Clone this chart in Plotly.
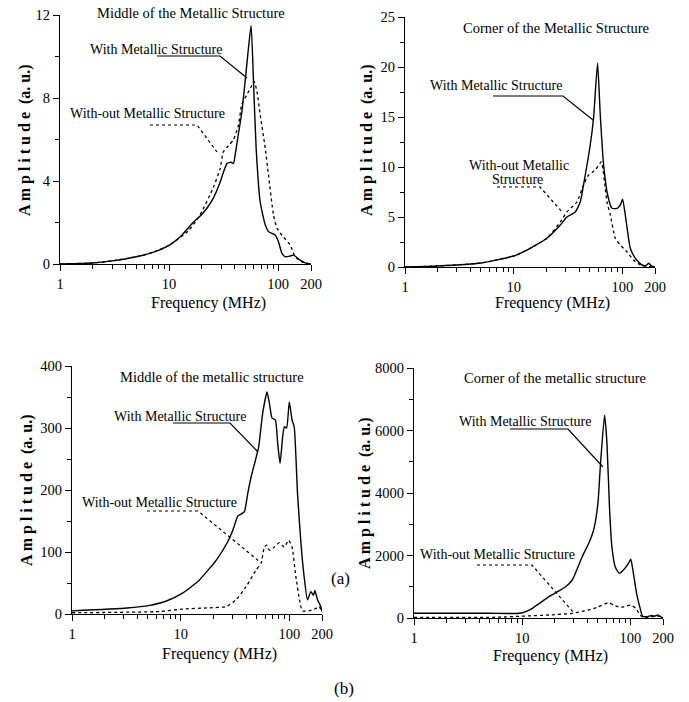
import math
import plotly.graph_objects as go

# ---------------- data ----------------
# (a) middle of the metallic structure
a_mid_with_f = [1, 2, 3, 5, 7, 10, 12.6, 16.6, 19.2, 22.3, 25.6, 29.4, 31.4, 34, 37, 39, 40.3, 43, 46.4,
                49.8, 53.4, 56.5, 59.4, 62.8, 68.4, 76, 81.5, 93.8, 100.7, 108, 116, 128, 138, 159, 177, 200]
a_mid_with_v = [0, 0.05, 0.15, 0.35, 0.55, 0.9, 1.3, 2.0, 2.3, 2.7, 3.2, 3.95, 4.4, 4.85, 4.9, 4.85, 5.25,
                6.2, 7.3, 8.8, 10.4, 11.5, 8.8, 5.6, 3.0, 1.9, 1.56, 1.4, 1.07, 0.53, 0.35, 0.38, 0.43, 0.19,
                0.05, 0]
a_mid_without_f = [1, 2, 3, 5, 7, 10, 15, 19.2, 25.5, 29.4, 31.4, 35, 39, 43.3, 46.4, 51.6, 56, 60.3, 64,
                   68.4, 76, 81.5, 90.6, 97.3, 104, 112, 129, 143, 165, 200]
a_mid_without_v = [0, 0.05, 0.15, 0.35, 0.55, 0.9, 1.6, 2.36, 3.7, 4.6, 5.4, 5.7, 6.0, 6.7, 7.7, 8.15, 8.5,
                   8.8, 8.3, 7.2, 5.6, 4.3, 2.36, 1.73, 1.5, 1.3, 0.92, 0.35, 0.1, 0]

# (a) corner of the metallic structure
a_cor_with_f = [1, 2, 5, 10, 11.5, 14.2, 20.2, 26.9, 30.9, 36.9, 41, 45.6, 50.7, 54.4, 59.2, 62.7, 67.3,
                73.3, 80.4, 89.4, 95.9, 100.7, 108.8, 118.5, 132, 152, 165, 175, 186, 200]
a_cor_with_v = [0, 0.1, 0.4, 1.1, 1.37, 1.87, 2.87, 4.2, 5.0, 5.5, 6.5, 9.2, 12.2, 14.9, 20.4, 15.2, 10.2,
                7.2, 5.87, 5.87, 6.2, 6.77, 4.5, 1.87, 0.87, 0.2, 0.15, 0.37, 0.1, 0]
a_cor_without_f = [1, 2, 5, 10, 14.2, 20.2, 26.9, 30.9, 38.2, 44, 49, 56.4, 64, 72.3, 77.6, 86.1, 96, 110,
                   127, 147, 170, 200]
a_cor_without_v = [0, 0.1, 0.4, 1.1, 1.87, 2.87, 4.5, 5.5, 6.5, 8.2, 9.2, 9.7, 10.5, 6.5, 5.2, 2.87, 2.2,
                   1.53, 0.7, 0.2, 0.05, 0]

# (b) middle of the metallic structure
b_mid_with_f = [1, 3.2, 5.2, 7.4, 10.5, 14.9, 21.3, 27.2, 30.2, 33.6, 36, 38.6, 41.5, 44.5, 48.8, 52.3,
                56.9, 62.4, 65.6, 69.4, 74.4, 78.2, 82.2, 86.9, 90, 94.5, 100, 106, 111, 119, 128, 137, 147,
                158, 167, 172, 182, 195, 200]
b_mid_with_v = [5, 9.7, 14, 21, 34, 55, 87, 117, 135, 158, 161, 165, 195, 221, 248, 270, 324, 358, 340, 316,
                313, 275, 243, 286, 302, 300, 342, 313, 302, 195, 114, 60, 23, 36, 30, 38, 23, 12, 4]
b_mid_without_f = [1, 6.4, 10.5, 18.5, 26.3, 32.4, 40, 49.5, 55, 59, 62, 65.5, 72.8, 81, 90, 98.6, 106,
                   115, 124, 132, 152, 176, 188, 200]
b_mid_without_v = [2, 4, 8, 10, 12, 23, 44, 71, 82, 108, 111, 103, 108, 115, 108, 119, 108, 60, 23, 5, 5,
                   9, 12, 3]

# (b) corner of the metallic structure
b_cor_with_f = [1, 5, 9, 10.5, 12.4, 17.7, 25.2, 29, 35.8, 41.2, 45.7, 50.1, 52.7, 57.7, 60.7, 64.2, 67.4,
                72.3, 78.7, 86.2, 95.9, 100.7, 106.6, 114, 123, 129, 141, 157, 168, 178, 195, 200]
b_cor_with_v = [150, 150, 145, 190, 310, 682, 1002, 1216, 1962, 2390, 2816, 3670, 4842, 6496, 5590, 3456,
                2282, 1642, 1430, 1536, 1750, 1878, 1430, 790, 310, 64, 40, 80, 60, 100, 20, 0]
b_cor_without_f = [1, 6, 10.8, 17.7, 29, 41, 50, 62.8, 69.8, 80.4, 92.5, 100.7, 112, 123, 132, 150, 170,
                   190, 200]
b_cor_without_v = [20, 25, 64, 96, 150, 256, 350, 490, 416, 342, 384, 416, 310, 96, 10, 30, 60, 50, 0]

x_tick_vals = [1, 10, 100, 200]
x_tick_text = ["1", "10", "100", "200"]
x_minor_vals = [2, 3, 4, 5, 6, 7, 8, 9, 20, 30, 40, 50, 60, 70, 80, 90]

y_ticks_a_mid = [0, 4, 8, 12]
y_ticks_a_cor = [0, 5, 10, 15, 20, 25]
y_ticks_b_mid = [0, 100, 200, 300, 400]
y_ticks_b_cor = [0, 2000, 4000, 6000, 8000]

titles = ["Middle of the Metallic Structure", "Corner of the Metallic Structure",
          "Middle of the metallic structure", "Corner of the metallic structure"]

# ---------------- layout helpers ----------------
W, H = 689, 702
SERIF = "Liberation Serif"


def px(x):
    return x / W


def py(y):
    return 1 - y / H


fig = go.Figure()

panels = [
    ("", (60, 311), (15, 264), (0, 12), y_ticks_a_mid, 2),
    ("2", (405, 655), (17, 267), (0, 25), y_ticks_a_cor, 2.5),
    ("3", (72, 322), (366, 614), (0, 400), y_ticks_b_mid, 50),
    ("4", (414, 663), (368, 618), (0, 8000), y_ticks_b_cor, 1000),
]

series = [
    (a_mid_with_f, a_mid_with_v, a_mid_without_f, a_mid_without_v),
    (a_cor_with_f, a_cor_with_v, a_cor_without_f, a_cor_without_v),
    (b_mid_with_f, b_mid_with_v, b_mid_without_f, b_mid_without_v),
    (b_cor_with_f, b_cor_with_v, b_cor_without_f, b_cor_without_v),
]

layout_axes = {}
for (aid, (x0, x1), (yt, yb), yr, yt_vals, ydt), (wf, wv, of, ov) in zip(panels, series):
    xa = "x" + aid
    ya = "y" + aid
    fig.add_trace(go.Scatter(x=of, y=ov, mode="lines", xaxis=xa, yaxis=ya,
                             line=dict(color="black", width=1.3, dash="dot", shape="spline",
                                       smoothing=0.5),
                             showlegend=False, hoverinfo="skip"))
    fig.add_trace(go.Scatter(x=wf, y=wv, mode="lines", xaxis=xa, yaxis=ya,
                             line=dict(color="black", width=1.4, shape="spline", smoothing=0.5),
                             showlegend=False, hoverinfo="skip"))
    layout_axes["xaxis" + aid] = dict(
        type="log", range=[0, math.log10(200)], domain=[px(x0), px(x1)], anchor=ya,
        automargin=False,
        showline=True, linecolor="black", linewidth=1.3, showgrid=False, zeroline=False,
        ticks="outside", ticklen=6, tickwidth=1.2, tickcolor="black",
        tickvals=x_tick_vals, ticktext=x_tick_text,
        tickfont=dict(family=SERIF, size=14.5, color="black"),
        minor=dict(ticks="outside", ticklen=4, tickwidth=1, tickcolor="black",
                   tickmode="array", tickvals=x_minor_vals, showgrid=False),
    )
    layout_axes["yaxis" + aid] = dict(
        range=list(yr), domain=[py(yb), py(yt)], anchor=xa,
        automargin=False,
        showline=True, linecolor="black", linewidth=1.3, showgrid=False, zeroline=False,
        ticks="outside", ticklen=6, tickwidth=1.2, tickcolor="black",
        tickvals=yt_vals, ticktext=[str(v) for v in yt_vals],
        tickfont=dict(family=SERIF, size=14.5, color="black"),
        minor=dict(ticks="outside", ticklen=4, tickwidth=1, tickcolor="black",
                   dtick=ydt, tick0=0, showgrid=False),
    )

annotations = []
shapes = []


def text(t, x, y, size=14, bold=False, angle=0):
    if bold:
        t = "<b>" + t + "</b>"
    annotations.append(dict(text=t, x=px(x), y=py(y), xref="paper", yref="paper",
                            xanchor="center", yanchor="middle", showarrow=False,
                            textangle=angle, font=dict(family=SERIF, size=size, color="black")))


def leader(points, dash):
    path = "M " + " L ".join(f"{px(a):.5f},{py(b):.5f}" for a, b in points)
    shapes.append(dict(type="path", path=path, xref="paper", yref="paper",
                       line=dict(color="black", width=1.2, dash=dash)))


amp = "A m p l i t u d e  (a. u.)"
freq = "Frequency (MHz)"

# panel titles
text(titles[0], 191, 13, 14.5)
text(titles[1], 556, 28, 14.5)
text(titles[2], 212, 377, 14.5)
text(titles[3], 555, 378, 14.5)

# axis titles
for (yx, yy), (fx, fy) in [((25, 140), (208, 303)), ((367, 140), (552, 303)),
                           ((27, 490), (219, 654)), ((365, 493), (550, 656))]:
    text(amp, yx, yy, 16, bold=True, angle=-90)
    text(freq, fx, fy, 16)

# labels with leader lines
text("With Metallic Structure", 156, 49, 14)
leader([(157, 56), (220, 56), (247, 78)], "solid")
text("With-out Metallic Structure", 147, 114, 14)
leader([(150, 125), (197, 125), (217, 152)], "dot")

text("With Metallic Structure", 496, 86, 14)
leader([(493, 96), (563, 96), (593, 120)], "solid")
text("With-out Metallic", 519, 165, 14)
text("Structure", 517, 180, 14)
leader([(497, 187), (540, 187), (563, 213)], "dot")

text("With Metallic Structure", 180, 416, 14)
leader([(173, 423), (230, 423), (258, 452)], "solid")
text("With-out Metallic Structure", 159, 502, 14)
leader([(147, 511), (198, 511), (260, 562)], "dot")

text("With Metallic Structure", 525, 421, 14)
leader([(510, 429), (568, 429), (603, 467)], "solid")
text("With-out Metallic Structure", 497, 554, 14)
leader([(477, 565), (532, 565), (573, 612)], "dot")

text("(a)", 340, 578, 17)
text("(b)", 344, 688, 17)

fig.update_layout(
    width=W, height=H, autosize=False,
    margin=dict(l=0, r=0, t=0, b=0, pad=0, autoexpand=False),
    paper_bgcolor="white", plot_bgcolor="white",
    showlegend=False, annotations=annotations, shapes=shapes,
    **layout_axes,
)

fig.write_html("out.html")
